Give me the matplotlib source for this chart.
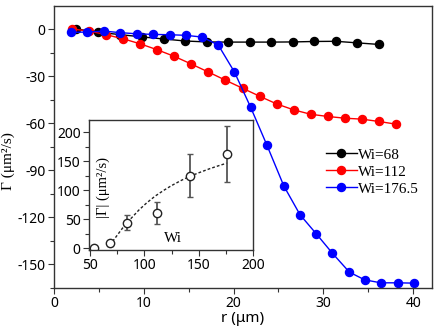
import matplotlib
matplotlib.use("Agg")
import matplotlib.pyplot as plt
from matplotlib.ticker import MultipleLocator

plt.rcParams['axes.unicode_minus'] = False

# ---- data ----
r_68 = [2.5, 4.9, 7.3, 9.8, 12.2, 14.6, 17.0, 19.4, 21.8, 24.2, 26.6, 29.0, 31.4, 33.8, 36.2]
g_68 = [0.0, -2.0, -3.5, -5.0, -6.3, -7.6, -8.2, -8.3, -8.3, -8.3, -8.2, -7.9, -7.8, -8.8, -9.8]

r_112 = [2.0, 3.9, 5.8, 7.7, 9.6, 11.5, 13.4, 15.3, 17.2, 19.1, 21.0, 22.9, 24.8, 26.7, 28.6, 30.5, 32.4, 34.3, 36.2, 38.1]
g_112 = [0.0, -1.2, -3.6, -6.2, -9.4, -13.2, -17.4, -22.3, -27.4, -32.6, -37.7, -42.8, -47.7, -51.5, -54.3, -55.7, -56.8, -57.4, -58.9, -60.6]

r_176 = [1.9, 3.7, 5.6, 7.4, 9.2, 11.0, 12.9, 14.7, 16.5, 18.3, 20.1, 21.9, 23.7, 25.6, 27.4, 29.2, 31.0, 32.9, 34.6, 36.4, 38.3, 40.1]
g_176 = [-2.1, -1.9, -1.3, -2.3, -3.0, -3.4, -3.6, -4.0, -5.1, -10.2, -27.4, -49.8, -73.8, -100.0, -118.3, -130.4, -142.8, -154.9, -159.8, -161.7, -161.7, -161.9]

series_labels = ["Wi=68", "Wi=112", "Wi=176.5"]
series_colors = ["#000000", "#ff0000", "#0000ff"]

# inset data
wi = [54, 68, 84, 112, 142, 176.5]
gabs = [1, 8.6, 44, 61, 124.6, 162.6]
gerr = [2, 4, 13, 19, 37, 48]

# dashed guide curve
fit_wi = [68, 72, 76, 80, 84, 90, 95, 102, 110, 118, 125, 134, 142, 150, 160, 168, 176.5]
fit_g = [5, 15, 25, 35, 44, 56, 66, 78, 90, 100, 108, 117, 124, 130, 137, 142, 147]

xticks_main = [0, 10, 20, 30, 40]
yticks_main = [0, -30, -60, -90, -120, -150]
xticks_in = [50, 100, 150, 200]
yticks_in = [0, 50, 100, 150, 200]

sans = ["Noto Sans", "DejaVu Sans"]
serif = ["Liberation Serif", "DejaVu Serif"]

fig = plt.figure(figsize=(4.36, 3.33), dpi=100)
ax = fig.add_axes([54/436, 1-288/333, (432-54)/436, (288-6)/333])

for rr, gg, lab, c in zip([r_68, r_112, r_176], [g_68, g_112, g_176], series_labels, series_colors):
    ax.plot(rr, gg, '-', color=c, lw=1.0, marker='o', ms=5.8, mec=c, mfc=c, label=lab)

ax.set_xlim(0, 42.1)
ax.set_ylim(-165, 14.7)
ax.set_xticks(xticks_main)
ax.set_yticks(yticks_main)
ax.xaxis.set_minor_locator(MultipleLocator(5))
ax.yaxis.set_minor_locator(MultipleLocator(15))
ax.tick_params(which='both', direction='out', top=False, right=False, color='#333333')
ax.tick_params(which='major', length=4, width=0.8, labelsize=10, pad=2)
ax.tick_params(which='minor', length=3, width=0.8)
for lbl in ax.get_xticklabels() + ax.get_yticklabels():
    lbl.set_family(sans)
for s in ax.spines.values():
    s.set_color('#333333')
    s.set_linewidth(1.0)

ax.set_xlabel("r (\u03bcm)", family=sans, fontsize=11, labelpad=0)
ax.set_ylabel("\u0393 (\u03bcm\u00b2/s)", family=serif, fontsize=11)
ax.yaxis.set_label_coords(-0.102, 0.45)

leg = ax.legend(loc='upper left', bbox_to_anchor=(326/436, 1-148/333), bbox_transform=fig.transFigure,
                frameon=False, prop={'family': serif, 'size': 11}, numpoints=1,
                handlelength=2.0, handletextpad=0.1, labelspacing=0.22, borderpad=0, borderaxespad=0)

# ---- inset ----
ai = fig.add_axes([89/436, 1-250/333, (253-89)/436, (250-120)/333])
ai.plot(fit_wi, fit_g, linestyle=(0, (2, 1.5)), color='#222222', lw=1.0)
ai.errorbar(wi, gabs, yerr=gerr, fmt='o', ms=6, mfc='white', mec='#222222', mew=1.0,
            ecolor='#555555', elinewidth=1.3, capsize=2.5, capthick=1.2)
ai.plot(wi, gabs, '.', color='#222222', ms=2)
ai.set_xlim(49, 200)
ai.set_ylim(-3, 221)
ai.set_xticks(xticks_in)
ai.set_yticks(yticks_in)
ai.xaxis.set_minor_locator(MultipleLocator(25))
ai.yaxis.set_minor_locator(MultipleLocator(25))
ai.tick_params(which='both', direction='out', top=False, right=False, color='#333333')
ai.tick_params(which='major', length=4, width=0.8, labelsize=10, pad=2)
ai.tick_params(which='minor', length=3, width=0.8)
for lbl in ai.get_xticklabels() + ai.get_yticklabels():
    lbl.set_family(sans)
for s in ai.spines.values():
    s.set_color('#333333')
    s.set_linewidth(1.0)
ai.text(0.085, 0.48, "|\u0393| (\u03bcm\u00b2/s)", transform=ai.transAxes, rotation=90,
        ha='center', va='center', family=serif, fontsize=10.5)
ai.text(0.51, 0.04, "Wi", transform=ai.transAxes, ha='center', va='bottom', family=serif, fontsize=11)

fig.savefig("out.png", dpi=100)
